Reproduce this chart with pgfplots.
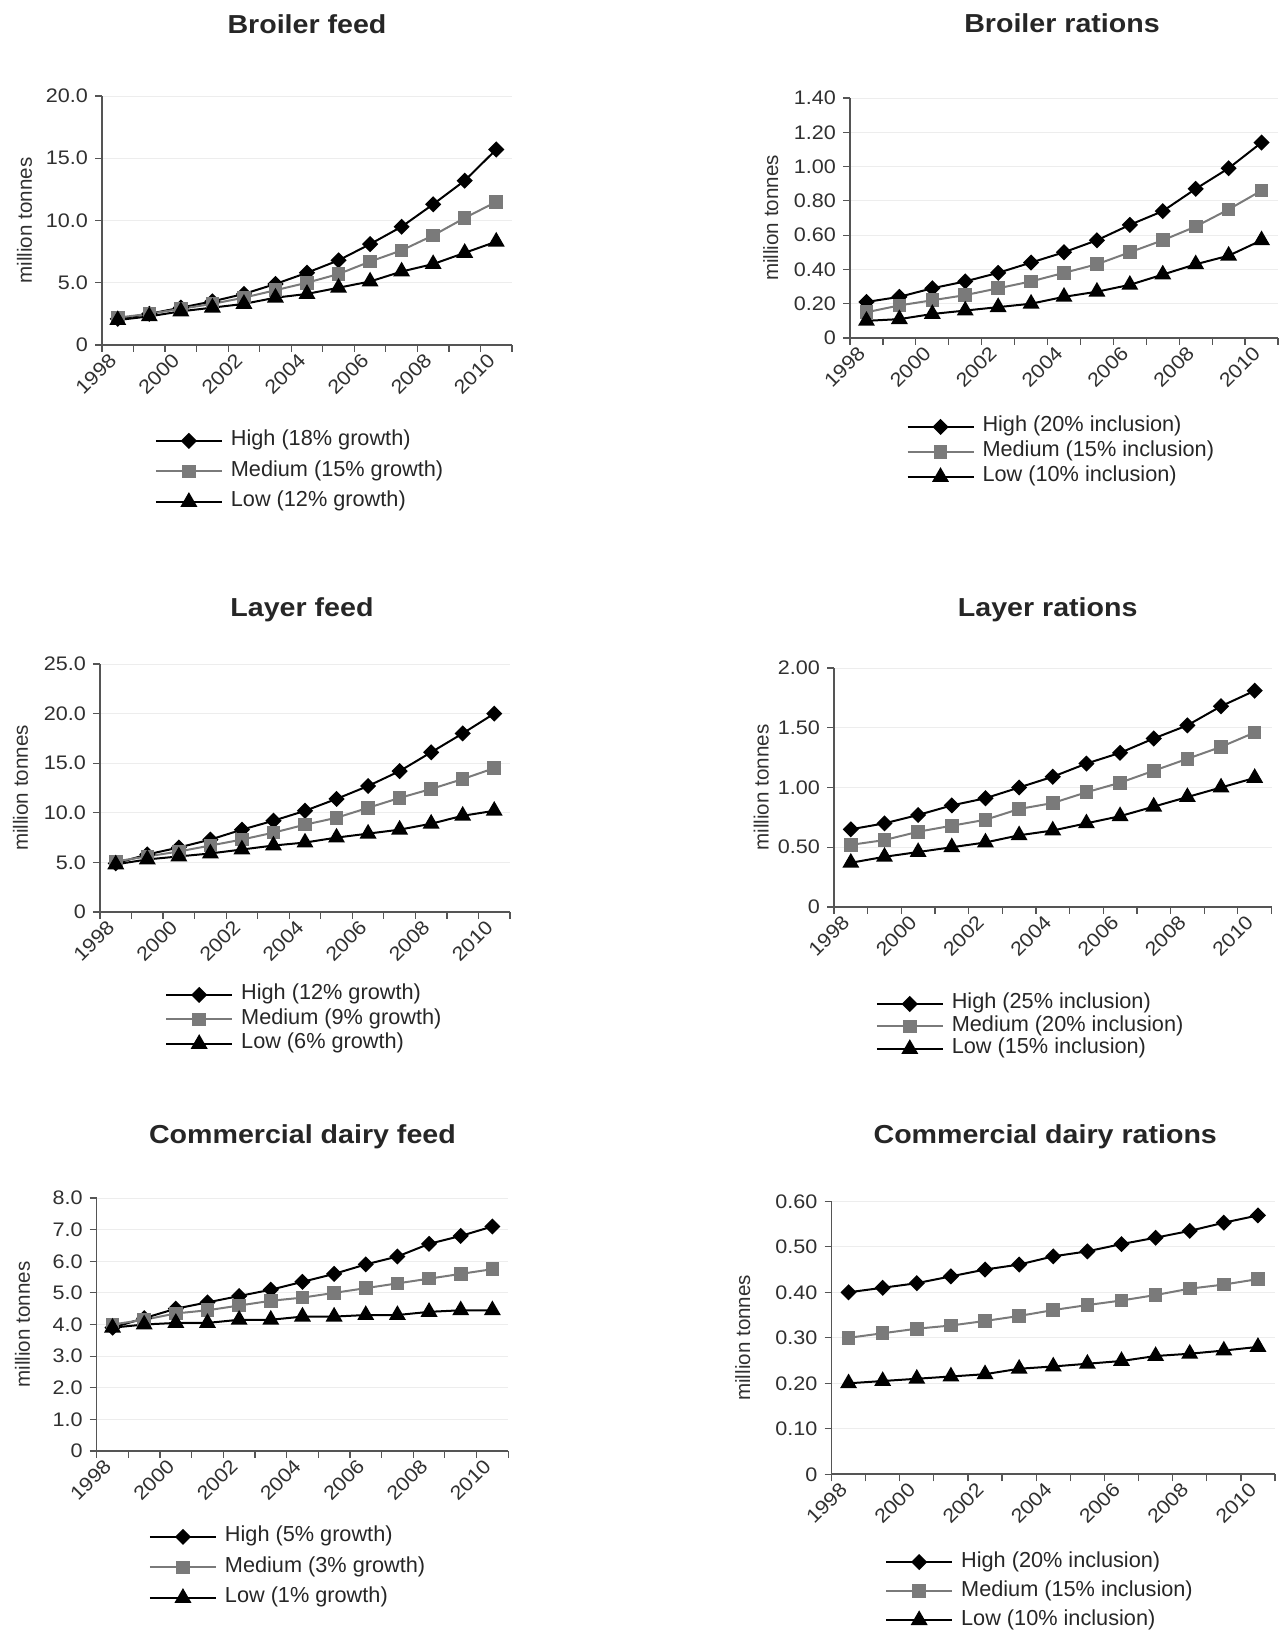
\documentclass[border=0pt]{standalone}
\usepackage{pgfplots}
\usepackage{pgfplotstable}
\pgfplotsset{compat=1.18}
\usepackage{fontspec}
\setmainfont{Liberation Sans}
\newfontfamily\widefont[FakeStretch=1.1]{Liberation Sans}

\definecolor{medgray}{HTML}{7A7A7A}
\definecolor{axgray}{HTML}{555555}
\definecolor{txtgray}{HTML}{303030}

\pgfplotstableread{
x hi med lo
0 2.1 2.2 2.0
1 2.5 2.5 2.3
2 3.0 2.9 2.7
3 3.5 3.3 3.0
4 4.1 3.8 3.3
5 4.9 4.4 3.8
6 5.8 5.0 4.1
7 6.8 5.7 4.6
8 8.1 6.7 5.1
9 9.5 7.6 5.9
10 11.3 8.8 6.5
11 13.2 10.2 7.4
12 15.7 11.5 8.3
}\broilerfeed

\pgfplotstableread{
x hi med lo
0 0.21 0.15 0.10
1 0.24 0.19 0.11
2 0.29 0.22 0.14
3 0.33 0.25 0.16
4 0.38 0.29 0.18
5 0.44 0.33 0.20
6 0.50 0.38 0.24
7 0.57 0.43 0.27
8 0.66 0.50 0.31
9 0.74 0.57 0.37
10 0.87 0.65 0.43
11 0.99 0.75 0.48
12 1.14 0.86 0.57
}\broilerrat

\pgfplotstableread{
x hi med lo
0 4.9 5.1 4.8
1 5.8 5.6 5.3
2 6.5 6.1 5.6
3 7.3 6.7 5.9
4 8.3 7.3 6.3
5 9.2 8.0 6.7
6 10.2 8.8 7.0
7 11.4 9.5 7.5
8 12.7 10.5 7.9
9 14.2 11.5 8.3
10 16.1 12.4 8.9
11 18.0 13.4 9.7
12 20.0 14.5 10.2
}\layerfeed

\pgfplotstableread{
x hi med lo
0 0.65 0.52 0.37
1 0.70 0.56 0.42
2 0.77 0.63 0.46
3 0.85 0.68 0.50
4 0.91 0.73 0.54
5 1.00 0.82 0.60
6 1.09 0.87 0.64
7 1.20 0.96 0.70
8 1.29 1.04 0.76
9 1.41 1.14 0.84
10 1.52 1.24 0.92
11 1.68 1.34 1.00
12 1.81 1.46 1.08
}\layerrat

\pgfplotstableread{
x hi med lo
0 3.9 4.0 3.9
1 4.2 4.15 4.0
2 4.5 4.35 4.05
3 4.7 4.45 4.05
4 4.9 4.6 4.15
5 5.1 4.75 4.15
6 5.35 4.85 4.25
7 5.6 5.0 4.25
8 5.9 5.15 4.3
9 6.15 5.3 4.3
10 6.55 5.45 4.4
11 6.8 5.6 4.45
12 7.1 5.75 4.45
}\dairyfeed

\pgfplotstableread{
x hi med lo
0 0.40 0.30 0.20
1 0.41 0.31 0.205
2 0.42 0.32 0.21
3 0.435 0.327 0.215
4 0.45 0.337 0.22
5 0.461 0.348 0.232
6 0.479 0.361 0.237
7 0.49 0.372 0.243
8 0.506 0.382 0.249
9 0.52 0.394 0.26
10 0.535 0.408 0.265
11 0.553 0.417 0.272
12 0.569 0.429 0.28
}\dairyrat

\pgfplotsset{
  panel/.style={
    scale only axis,
    anchor=south west,
    axis x line*=bottom, axis y line*=left,
    axis line style={axgray, line width=0.8pt, -},
    xmin=-0.5, xmax=12.5, ymin=0,
    xtick={0,2,...,12},
    xticklabels={1998,2000,2002,2004,2006,2008,2010},
    minor xtick={-0.5,0.5,...,12.5},
    major x tick style={draw=none},
    minor x tick style={axgray, line width=0.6pt},
    y tick style={axgray, line width=0.6pt},
    tick align=outside,
    major tick length=3.5pt, minor tick length=3.5pt,
    ymajorgrids, grid style={black!7, line width=0.4pt},
    x tick label style={rotate=45, anchor=east, font=\widefont\fontsize{9.8}{11}\selectfont, text=txtgray},
    y tick label style={font=\widefont\fontsize{9.8}{11}\selectfont, text=txtgray},
    ylabel={million tonnes},
    ylabel style={font=\fontsize{10.3}{11}\selectfont, text=txtgray, anchor=center},
    title style={font=\widefont\bfseries\fontsize{13}{15}\selectfont, text=black!85, anchor=center},
    legend cell align=left,
    legend style={draw=none, fill=none, font=\fontsize{10.85}{12}\selectfont, text=black!85,
      inner sep=0pt, outer sep=0pt, column sep=4pt, anchor=north west,
      nodes={inner sep=0pt, text height=7.5pt, text depth=2.5pt}},
    legend image code/.code={\draw[mark repeat=2,mark phase=2,##1] plot coordinates {(0pt,0pt) (16.5pt,0pt) (33pt,0pt)};},
    clip=false,
  },
  hiser/.style={black, line width=1pt, mark=square*, mark size=2.35pt, mark options={solid, fill=black, rotate=45}},
  medser/.style={medgray, line width=1pt, mark=square*, mark size=2.9pt, mark options={solid, fill=medgray}},
  loser/.style={black, line width=1pt, mark=triangle*, mark size=3.9pt, mark options={solid, fill=black}},
}

\begin{document}
\begin{tikzpicture}
\path[use as bounding box] (0pt,0pt) rectangle (641.5pt,815.5pt);

% Panel 1: Broiler feed
\begin{axis}[panel, at={(51pt,643pt)}, width=205pt, height=124.5pt,
  ymax=20, ytick={0,5,10,15,20}, yticklabels={0,5.0,10.0,15.0,20.0},
  title={Broiler feed}, title style={at={(0.5,1)}, yshift=30pt},
  ylabel style={at={(axis description cs:-0.189,0.5)}},
  legend style={at={(axis description cs:0.129,-0.345)}, row sep=5.25pt}]
\addplot[hiser] table[x=x,y=hi]{\broilerfeed};
\addplot[medser] table[x=x,y=med]{\broilerfeed};
\addplot[loser] table[x=x,y=lo]{\broilerfeed};
\legend{High (18\% growth),Medium (15\% growth),Low (12\% growth)}
\end{axis}

% Panel 2: Broiler rations
\begin{axis}[panel, at={(425pt,646.5pt)}, width=214pt, height=120pt,
  ymax=1.4, ytick={0,0.2,...,1.4}, yticklabels={0,0.20,0.40,0.60,0.80,1.00,1.20,1.40},
  title={Broiler rations}, title style={at={(0.5,1)}, yshift=31.5pt, xshift=-1pt},
  ylabel style={at={(axis description cs:-0.185,0.5)}},
  legend style={at={(axis description cs:0.132,-0.329)}, row sep=2.5pt}]
\addplot[hiser] table[x=x,y=hi]{\broilerrat};
\addplot[medser] table[x=x,y=med]{\broilerrat};
\addplot[loser] table[x=x,y=lo]{\broilerrat};
\legend{High (20\% inclusion),Medium (15\% inclusion),Low (10\% inclusion)}
\end{axis}

% Panel 3: Layer feed
\begin{axis}[panel, at={(50pt,359.5pt)}, width=205pt, height=124pt,
  ymax=25, ytick={0,5,10,15,20,25}, yticklabels={0,5.0,10.0,15.0,20.0,25.0},
  title={Layer feed}, title style={at={(0.5,1)}, yshift=21pt, xshift=-1.5pt},
  ylabel style={at={(axis description cs:-0.194,0.5)}},
  legend style={at={(axis description cs:0.159,-0.294)}, row sep=2.25pt}]
\addplot[hiser] table[x=x,y=hi]{\layerfeed};
\addplot[medser] table[x=x,y=med]{\layerfeed};
\addplot[loser] table[x=x,y=lo]{\layerfeed};
\legend{High (12\% growth),Medium (9\% growth),Low (6\% growth)}
\end{axis}

% Panel 4: Layer rations
\begin{axis}[panel, at={(417pt,362pt)}, width=218.75pt, height=119.5pt,
  ymax=2, ytick={0,0.5,1,1.5,2}, yticklabels={0,0.50,1.00,1.50,2.00},
  title={Layer rations}, title style={at={(0.5,1)}, yshift=23pt, xshift=-2.5pt},
  ylabel style={at={(axis description cs:-0.166,0.5)}},
  legend style={at={(axis description cs:0.0955,-0.364)}, row sep=1.25pt}]
\addplot[hiser] table[x=x,y=hi]{\layerrat};
\addplot[medser] table[x=x,y=med]{\layerrat};
\addplot[loser] table[x=x,y=lo]{\layerrat};
\legend{High (25\% inclusion),Medium (20\% inclusion),Low (15\% inclusion)}
\end{axis}

% Panel 5: Commercial dairy feed
\begin{axis}[panel, at={(48.35pt,90pt)}, width=205.75pt, height=126.5pt,
  ymax=8, ytick={0,1,...,8}, yticklabels={0,1.0,2.0,3.0,4.0,5.0,6.0,7.0,8.0},
  title={Commercial dairy feed}, title style={at={(0.5,1)}, yshift=24.5pt},
  ylabel style={at={(axis description cs:-0.18,0.5)}},
  legend style={at={(axis description cs:0.127,-0.300)}, row sep=5.25pt}]
\addplot[hiser] table[x=x,y=hi]{\dairyfeed};
\addplot[medser] table[x=x,y=med]{\dairyfeed};
\addplot[loser] table[x=x,y=lo]{\dairyfeed};
\legend{High (5\% growth),Medium (3\% growth),Low (1\% growth)}
\end{axis}

% Panel 6: Commercial dairy rations
\begin{axis}[panel, at={(415.75pt,78.35pt)}, width=221.75pt, height=136.5pt,
  ymax=0.6, ytick={0,0.1,...,0.6}, yticklabels={0,0.10,0.20,0.30,0.40,0.50,0.60},
  title={Commercial dairy rations}, title style={at={(0.5,1)}, yshift=26.5pt, xshift=-4pt},
  ylabel style={at={(axis description cs:-0.2,0.5)}},
  legend style={at={(axis description cs:0.121,-0.285)}, row sep=4.5pt}]
\addplot[hiser] table[x=x,y=hi]{\dairyrat};
\addplot[medser] table[x=x,y=med]{\dairyrat};
\addplot[loser] table[x=x,y=lo]{\dairyrat};
\legend{High (20\% inclusion),Medium (15\% inclusion),Low (10\% inclusion)}
\end{axis}
\end{tikzpicture}
\end{document}
